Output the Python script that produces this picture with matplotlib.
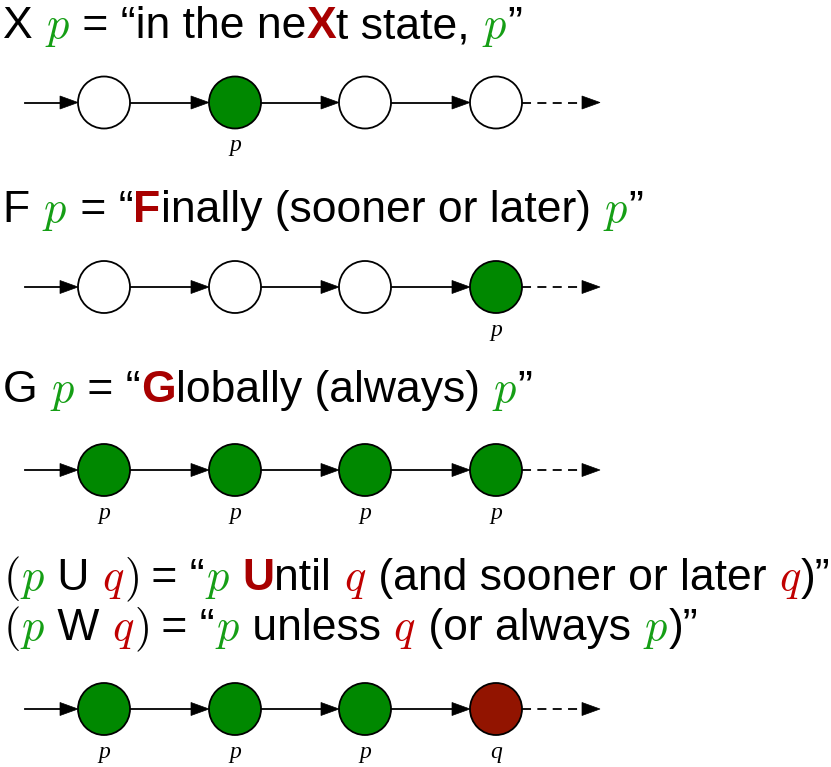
"""
Recreates the LTL operator cheat-sheet: each temporal operator gets a
coloured title line and a small chain of states drawn underneath it.
"""
import matplotlib
matplotlib.use("Agg")
import matplotlib.pyplot as plt
from matplotlib.patches import Circle, Polygon

plt.rcParams["mathtext.fontset"] = "cm"

# colours
BLACK = "black"
GREEN = "#159e15"      # p in the formulas
RED = "#c00000"        # q in the formulas
BOLD_RED = "#a80000"   # highlighted letters
STATE_GREEN = "#008800"
STATE_RED = "#921400"

# title lines: (text, colour, kind) with kind "sans", "bold" or "math"
TITLE_X = [("X ", BLACK, "sans"), ("p", GREEN, "math"), (" = \u201cin the ne", BLACK, "sans"),
           ("X", BOLD_RED, "bold"), ("t state, ", BLACK, "sans"), ("p", GREEN, "math"),
           ("\u201d", BLACK, "sans")]
TITLE_F = [("F ", BLACK, "sans"), ("p", GREEN, "math"), (" = \u201c", BLACK, "sans"),
           ("F", BOLD_RED, "bold"), ("inally (sooner or later) ", BLACK, "sans"),
           ("p", GREEN, "math"), ("\u201d", BLACK, "sans")]
TITLE_G = [("G ", BLACK, "sans"), ("p", GREEN, "math"), (" = \u201c", BLACK, "sans"),
           ("G", BOLD_RED, "bold"), ("lobally (always) ", BLACK, "sans"),
           ("p", GREEN, "math"), ("\u201d", BLACK, "sans")]
TITLE_U = [("(", BLACK, "math"), ("p", GREEN, "math"), (" U ", BLACK, "sans"),
           ("q", RED, "math"), (")", BLACK, "math"),
           (" = \u201c", BLACK, "sans"), ("p", GREEN, "math"), (" ", BLACK, "sans"),
           ("U", BOLD_RED, "bold"), ("ntil ", BLACK, "sans"), ("q", RED, "math"),
           (" (and sooner or later ", BLACK, "sans"), ("q", RED, "math"),
           (")\u201d", BLACK, "sans")]
TITLE_W = [("(", BLACK, "math"), ("p", GREEN, "math"), (" W ", BLACK, "sans"),
           ("q", RED, "math"), (")", BLACK, "math"),
           (" = \u201c", BLACK, "sans"), ("p", GREEN, "math"), (" unless ", BLACK, "sans"),
           ("q", RED, "math"), (" (or always ", BLACK, "sans"), ("p", GREEN, "math"),
           (")\u201d", BLACK, "sans")]

TITLES = [TITLE_X, TITLE_F, TITLE_G, TITLE_U, TITLE_W]
TITLE_BASELINES = [38, 222, 402, 590, 640]

# state chains: fill colour and label of every state
ROW_FILLS = [
    ["white", STATE_GREEN, "white", "white"],
    ["white", "white", "white", STATE_GREEN],
    [STATE_GREEN, STATE_GREEN, STATE_GREEN, STATE_GREEN],
    [STATE_GREEN, STATE_GREEN, STATE_GREEN, STATE_RED],
]
ROW_LABELS = [
    ["", "p", "", ""],
    ["", "", "", "p"],
    ["p", "p", "p", "p"],
    ["p", "p", "p", "q"],
]
ROW_Y = [102.5, 287, 470, 709]
STATE_X = [104, 235, 365, 496]

R = 26
START_X = 25
END_X = 600
HEAD_LEN = 18
HEAD_HALF = 6.5
FONT_SIZE = 32


def arrow_head(ax, tip_x, y):
    tri = Polygon([(tip_x, y), (tip_x - HEAD_LEN, y - HEAD_HALF), (tip_x - HEAD_LEN, y + HEAD_HALF)],
                  closed=True, facecolor=BLACK, edgecolor=BLACK, lw=0.5, zorder=3)
    ax.add_patch(tri)


def draw_title(ax, renderer, pieces, x, y):
    # lay the pieces out one after the other on a shared baseline
    for text, colour, kind in pieces:
        if kind == "math":
            s = "$" + text + "$"
            t = ax.text(x, y, s, color=colour, fontsize=FONT_SIZE, va="baseline", ha="left")
        else:
            t = ax.text(x, y, text, color=colour, fontsize=FONT_SIZE, va="baseline", ha="left",
                        family="Liberation Sans", weight="bold" if kind == "bold" else "normal")
        x += t.get_window_extent(renderer).width


def draw_chain(ax, y, fills, labels):
    # incoming arrow plus solid arrows between states
    prev_x = START_X
    for cx, fill, lab in zip(STATE_X, fills, labels):
        ax.plot([prev_x, cx - R - HEAD_LEN + 1], [y, y], color=BLACK, lw=1.3, zorder=2)
        arrow_head(ax, cx - R, y)
        ax.add_patch(Circle((cx, y), R, facecolor=fill, edgecolor=BLACK, lw=1.3, zorder=4))
        if lab:
            ax.text(cx, y + 49, lab, fontsize=17, family="Liberation Serif", style="italic",
                    ha="center", va="baseline", color=BLACK)
        prev_x = cx + R
    # dashed tail: the path keeps going
    ax.plot([prev_x, END_X - HEAD_LEN], [y, y], color=BLACK, lw=1.3, ls=(0, (5, 3.5)), zorder=2)
    arrow_head(ax, END_X, y)


def main():
    fig = plt.figure(figsize=(8.31, 7.67), dpi=100)
    ax = fig.add_axes([0, 0, 1, 1])
    ax.set_xlim(0, 831)
    ax.set_ylim(767, 0)
    ax.axis("off")
    renderer = fig.canvas.get_renderer()

    for pieces, base in zip(TITLES, TITLE_BASELINES):
        draw_title(ax, renderer, pieces, 3, base)

    for y, fills, labels in zip(ROW_Y, ROW_FILLS, ROW_LABELS):
        draw_chain(ax, y, fills, labels)

    fig.savefig("out.png", dpi=100, facecolor="white")
    plt.close(fig)


if __name__ == "__main__":
    main()
